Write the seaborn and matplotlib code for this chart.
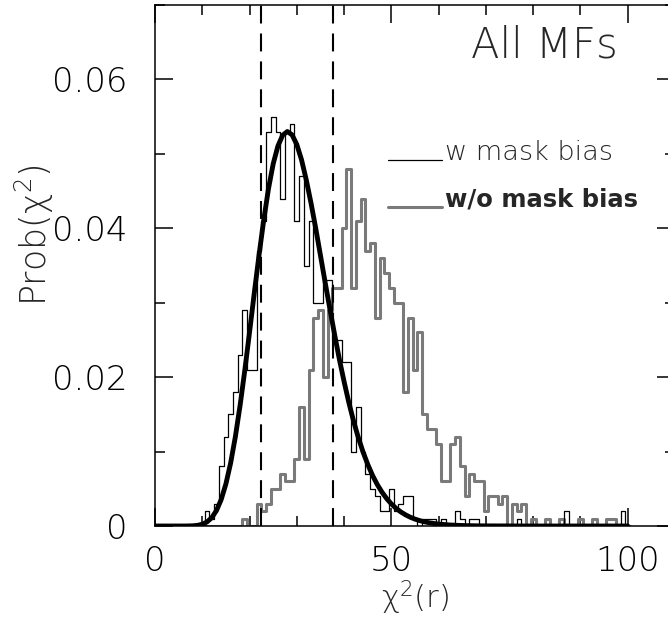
import numpy as np
import pandas as pd
import matplotlib
matplotlib.use("Agg")
import matplotlib.pyplot as plt
import seaborn as sns
from matplotlib.ticker import MultipleLocator
from matplotlib.legend_handler import HandlerLine2D

# ---------------- data ----------------
bin_centers = list(range(0, 101))

# probability per unit bin, "w mask bias" (thin black histogram)
w_mask_bias = [
    0, 0, 0, 0, 0, 0, 0, 0, 0, 0,
    0, .002, .001, .003, .008, .012, .015, .018, .023, .029,
    .021, .021, .037, .041, .053, .055, .053, .044, .053, .054,
    .041, .047, .035, .041, .030, .030, .033, .033, .025, .025,
    .022, .022, .010, .016, .010, .007, .005, .004, .002, .002,
    .005, .002, .003, .004, .004, .001, 0, .001, .001, .001,
    0, .001, 0, 0, .002, .001, 0, .001, .001, 0,
    0, 0, 0, 0, 0, 0, 0, .001, 0, 0,
    0, 0, 0, 0, 0, 0, 0, .002, 0, 0,
    0, 0, 0, 0, 0, 0, 0, 0, 0, .002,
    0,
]

# probability per unit bin, "w/o mask bias" (thick grey histogram)
wo_mask_bias = [
    0, 0, 0, 0, 0, 0, 0, 0, 0, 0,
    0, 0, 0, 0, 0, 0, 0, 0, 0, .001,
    0, 0, .003, .002, .003, .005, .005, .007, .006, .006,
    .009, .016, .009, .021, .028, .029, .020, .029, .032, .032,
    .040, .048, .032, .041, .044, .037, .038, .028, .036, .034,
    .032, .030, .030, .018, .028, .021, .026, .015, .013, .013,
    .011, .006, .006, .011, .012, .008, .004, .007, .006, .006,
    .002, .004, .004, .003, .004, 0, .003, .002, .003, 0,
    .001, 0, 0, .001, 0, 0, .001, 0, 0, 0,
    .001, 0, 0, .001, 0, 0, .001, .001, 0, 0,
    0,
]

# expected distribution (thick black curve)
curve_x = [0, 2, 4, 5, 6, 7, 8, 9, 10, 11, 12, 13, 14, 15, 16, 17, 18, 19,
           20, 21, 22, 23, 24, 25, 26, 27, 28, 29, 30, 31, 32, 33, 34, 35,
           36, 37, 38, 39, 40, 41, 42, 43, 44, 45, 46, 47, 48, 49, 50, 51,
           52, 53, 54, 55, 56, 57, 58, 59, 60, 62, 64, 66, 68, 70, 80, 90, 100]
curve_y = [0.0, 0.0, 0.0, 0.0000002, 0.0000014, 0.0000071, 0.000028, 0.000089,
           0.000236, 0.000543, 0.001115, 0.00207, 0.00355, 0.00566, 0.00846,
           0.01199, 0.0162, 0.02094, 0.02604, 0.0313, 0.03636, 0.0411, 0.0453,
           0.04865, 0.05105, 0.0525, 0.0530, 0.05255, 0.05125, 0.0492, 0.0465,
           0.0434, 0.0400, 0.03636, 0.0327, 0.02915, 0.0257, 0.0224, 0.0194,
           0.0166, 0.0141, 0.0119, 0.00996, 0.00828, 0.00682, 0.00559, 0.00456,
           0.00369, 0.00297, 0.00237, 0.00189, 0.00150, 0.00118, 0.000926,
           0.000723, 0.000562, 0.000434, 0.000335, 0.000257, 0.000150,
           0.000086, 0.000049, 0.000027, 0.000015, 0.0, 0.0, 0.0]

sigma_bounds = [22.4, 37.6]

x_ticks = [0, 50, 100]
x_tick_labels = ["0", "50", "100"]
y_ticks = [0, 0.02, 0.04, 0.06]
y_tick_labels = ["0", "0.02", "0.04", "0.06"]
legend_labels = ["w mask bias", "w/o mask bias"]
panel_title = "All MFs"
x_label = r"$\chi^2$(r)"
y_label = r"Prob($\chi^2$)"

# ---------------- style ----------------
sns.set_theme(style="ticks")
plt.rcParams["font.family"] = ["DejaVu Sans"]
plt.rcParams["mathtext.default"] = "regular"
plt.rcParams["axes.linewidth"] = 1.1

W, H = 668, 621
fig = plt.figure(figsize=(W / 100, H / 100), dpi=100)
ax = fig.add_axes([155 / W, 1 - 526 / H, 520 / W, 521 / H])

df = pd.DataFrame({"chi2": bin_centers, "w": w_mask_bias, "wo": wo_mask_bias})

n0 = len(ax.lines)
sns.histplot(data=df, x="chi2", weights="wo", binwidth=1, binrange=(-0.5, 100.5),
             element="step", fill=False, color="#7a7a7a", linewidth=2.2, ax=ax)
h_wo = ax.lines[n0]
n0 = len(ax.lines)
sns.histplot(data=df, x="chi2", weights="w", binwidth=1, binrange=(-0.5, 100.5),
             element="step", fill=False, color="black", linewidth=0.9, ax=ax)
h_w = ax.lines[n0]

sns.lineplot(x=curve_x, y=curve_y, color="black", linewidth=3.5, ax=ax,
             sort=False, estimator=None, zorder=5)

for xb in sigma_bounds:
    ax.axvline(xb, color="black", linewidth=1.5, dashes=(8.6, 4.8), zorder=4)

ax.set_xlim(0, 110)
ax.set_ylim(0, 0.07)

ax.set_xticks(x_ticks)
ax.set_xticklabels(x_tick_labels)
ax.set_yticks(y_ticks)
ax.set_yticklabels(y_tick_labels)
ax.xaxis.set_minor_locator(MultipleLocator(10))
ax.yaxis.set_minor_locator(MultipleLocator(0.01))
ax.tick_params(which="both", direction="in", top=True, right=True,
               width=1.1, colors="black")
ax.tick_params(which="major", length=12.7)
ax.tick_params(which="minor", length=7.2)
ax.tick_params(axis="x", which="major", labelsize=24.5, pad=14)
ax.tick_params(axis="y", which="major", labelsize=24.5, pad=20)
for lab in ax.get_xticklabels() + ax.get_yticklabels():
    lab.set_fontweight("light")
for sp in ax.spines.values():
    sp.set_color("black")
    sp.set_linewidth(1.1)

ax.set_xlabel(x_label, fontsize=22, fontweight="light")
ax.set_ylabel(y_label, fontsize=25, fontweight="light")
ax.xaxis.set_label_coords(415 / W, 1 - 598 / H, transform=fig.transFigure)
ax.yaxis.set_label_coords(34 / W, 1 - 235 / H, transform=fig.transFigure)
ax.xaxis.label.set_va("center")
ax.yaxis.label.set_va("center")

ax.text(97.9, 0.063, panel_title, ha="right", va="baseline", fontsize=30,
        fontweight="light")


class BaselineLineHandler(HandlerLine2D):
    def create_artists(self, legend, orig_handle, xdescent, ydescent, width,
                       height, fontsize, trans):
        arts = super().create_artists(legend, orig_handle, xdescent, ydescent,
                                      width, height, fontsize, trans)
        for a in arts:
            a.set_ydata(np.zeros(len(a.get_ydata())))
        return arts


leg = ax.legend(handles=[h_w, h_wo], labels=legend_labels, loc="upper left",
                bbox_to_anchor=(388 / W, 1 - 139.5 / H),
                bbox_transform=fig.transFigure, frameon=False,
                handlelength=2.0, handletextpad=0.12, labelspacing=0.85,
                borderpad=0, borderaxespad=0, fontsize=19.5,
                handler_map={h_w: BaselineLineHandler(),
                             h_wo: BaselineLineHandler()})
texts = leg.get_texts()
texts[0].set_fontweight("light")
texts[1].set_fontweight("bold")
texts[1].set_fontsize(17.5)

fig.savefig("out.png", dpi=100)
